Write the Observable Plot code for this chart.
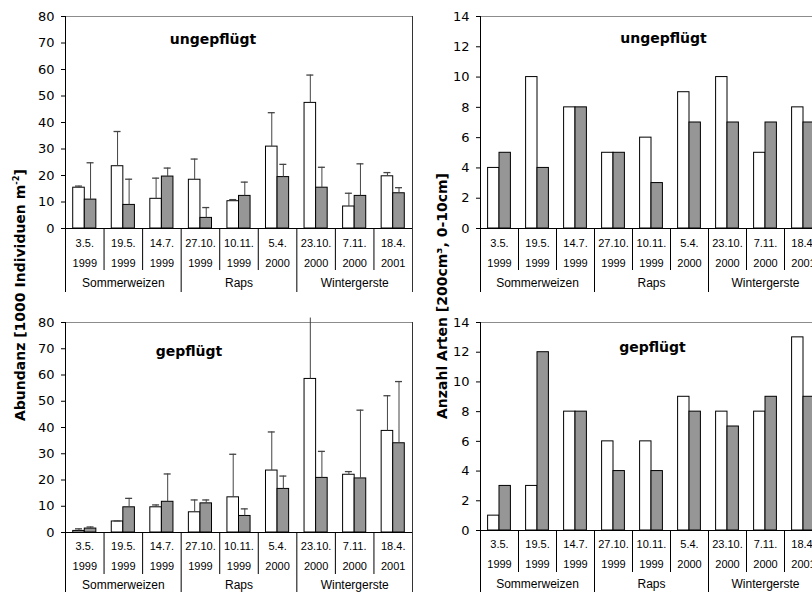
<!DOCTYPE html>
<html>
<head>
<meta charset="utf-8">
<script src="https://cdn.jsdelivr.net/npm/d3@7"></script>
<script src="https://cdn.jsdelivr.net/npm/@observablehq/plot@0.6"></script>
<style>
  body { margin: 0; background: #fff; overflow: hidden; }
  #wrap { position: relative; width: 812px; height: 592px; overflow: hidden; background: #fff; }
  .panel { position: absolute; overflow: hidden; }
  .ytitle { position: absolute; transform: translate(-50%, -50%) rotate(-90deg); font: bold 14px "DejaVu Sans", sans-serif; white-space: nowrap; z-index: 2; color: #000; }
  .ytitle sup { font-size: 60%; line-height: 0; }
</style>
</head>
<body>
<div id="wrap">
  <div class="ytitle" style="left:20px;top:295px">Abundanz [1000 Individuen m<sup>-2</sup>]</div>
  <div class="ytitle" style="left:442px;top:296px">Anzahl Arten [200cm³, 0-10cm]</div>
</div>
<script>
// ---------- data ----------
const dates = ["3.5.", "19.5.", "14.7.", "27.10.", "10.11.", "5.4.", "23.10.", "7.11.", "18.4."];
const years = ["1999", "1999", "1999", "1999", "1999", "2000", "2000", "2000", "2001"];
const crops = ["Sommerweizen", "Raps", "Wintergerste"];

// Abundanz, ungepflügt (white / grey bars with upper error)
const abunUngWhite    = [15.4, 23.5, 11.2, 18.4, 10.3, 30.9, 47.4, 8.3, 19.7];
const abunUngWhiteErr = [0.6, 13.1, 7.8, 7.8, 0.6, 12.8, 10.5, 5.0, 1.4];
const abunUngGray     = [10.9, 8.9, 19.6, 4.0, 12.3, 19.4, 15.4, 12.3, 13.3];
const abunUngGrayErr  = [13.9, 9.7, 3.2, 3.9, 5.2, 4.8, 7.7, 12.1, 2.1];
// Abundanz, gepflügt
const abunGepWhite    = [0.6, 4.2, 9.6, 7.7, 13.4, 23.6, 58.5, 22.0, 38.7];
const abunGepWhiteErr = [0.8, 0.2, 0.9, 4.7, 16.4, 14.7, 23.2, 1.2, 13.4];
const abunGepGray     = [1.5, 9.6, 11.7, 11.1, 6.3, 16.6, 20.8, 20.6, 34.0];
const abunGepGrayErr  = [0.6, 3.4, 10.6, 1.3, 2.7, 4.9, 10.1, 26.0, 23.5];
// Anzahl Arten
const artenUngWhite = [4, 10, 8, 5, 6, 9, 10, 5, 8];
const artenUngGray  = [5, 4, 8, 5, 3, 7, 7, 7, 7];
const artenGepWhite = [1, 3, 8, 6, 6, 9, 8, 8, 13];
const artenGepGray  = [3, 12, 8, 4, 4, 8, 7, 9, 9];

const abunTicks  = [0, 10, 20, 30, 40, 50, 60, 70, 80];
const artenTicks = [0, 2, 4, 6, 8, 10, 12, 14];
const panelTitles = ["ungepflügt", "gepflügt"];

// ---------- drawing ----------
const GRAY = "#969696";
const ERR = "#444";

function panel(o) {
  const {white, whiteErr, gray, grayErr, ticks, title, left, top, width, height, ml, mr, mt, mb, titleDx, titleDy, labDy} = o;
  const yMax = ticks[ticks.length - 1];
  const rows = dates.map((d, i) => ({
    date: d, year: years[i], w: white[i], g: gray[i],
    we: whiteErr ? whiteErr[i] : 0, ge: grayErr ? grayErr[i] : 0
  }));
  const plotW = width - ml - mr, plotH = height - mt - mb;
  const step = plotW / dates.length;
  const bw = step * 0.6, half = bw / 2;
  const capW = 7;
  const below = (px) => -px * yMax / plotH;
  const dateSeps = dates.filter((d, i) => i % 3 !== 0);
  const groupSeps = dates.filter((d, i) => i % 3 === 0 && i > 0);

  const marks = [
    Plot.ruleY([yMax], {stroke: "#8c8c8c"}),
    Plot.barY(rows, {x: "date", y: "w", fill: "white", stroke: "black", strokeWidth: 1, insetRight: half}),
    Plot.barY(rows, {x: "date", y: "g", fill: GRAY, stroke: "black", strokeWidth: 1, insetLeft: half})
  ];
  if (whiteErr) {
    marks.push(
      Plot.ruleX(rows, {x: "date", y1: "w", y2: (d) => d.w + d.we, dx: -half / 2, stroke: ERR}),
      Plot.tickY(rows.filter((d) => d.w + d.we <= yMax), {x: "date", y: (d) => d.w + d.we, dx: -half / 2, inset: (bw - capW) / 2, stroke: ERR, strokeWidth: 1.3}),
      Plot.ruleX(rows, {x: "date", y1: "g", y2: (d) => d.g + d.ge, dx: half / 2, stroke: ERR}),
      Plot.tickY(rows.filter((d) => d.g + d.ge <= yMax), {x: "date", y: (d) => d.g + d.ge, dx: half / 2, inset: (bw - capW) / 2, stroke: ERR, strokeWidth: 1.3})
    );
  }
  marks.push(
    Plot.ruleY([0], {stroke: "black"}),
    // category separators below the axis
    Plot.ruleX(dateSeps, {x: (d) => d, y1: 0, y2: below(42), dx: -step / 2, stroke: "black"}),
    Plot.ruleX(groupSeps, {x: (d) => d, y1: 0, y2: below(64), dx: -step / 2, stroke: "black"}),
    // y axis line and right frame edge
    Plot.ruleX([dates[0]], {x: (d) => d, y1: yMax, y2: below(64), dx: -step / 2, stroke: "black"}),
    Plot.ruleX([dates[dates.length - 1]], {x: (d) => d, y1: yMax, y2: below(64), dx: step / 2, stroke: "#333"}),
    // category labels
    Plot.text(rows, {x: "date", y: 0, text: "date", dy: labDy[0], fontSize: 11, fontFamily: "Liberation Sans, Arial, sans-serif", fill: "black"}),
    Plot.text(rows, {x: "date", y: 0, text: "year", dy: labDy[1], fontSize: 11, fontFamily: "Liberation Sans, Arial, sans-serif", fill: "black"}),
    Plot.text(crops, {x: (d, i) => dates[3 * i + 1], y: 0, text: (d) => d, dy: labDy[2], fontSize: 12, fontFamily: "Liberation Sans, Arial, sans-serif", fill: "black"}),
    // panel title
    Plot.text([title], {frameAnchor: "top", lineAnchor: "middle", dx: titleDx, dy: titleDy, text: (d) => d, fontSize: 14, fontWeight: "bold", fontFamily: "DejaVu Sans, sans-serif", fill: "black"})
  );

  const svg = Plot.plot({
    width, height,
    marginLeft: ml, marginRight: mr, marginTop: mt, marginBottom: mb,
    x: {type: "band", domain: dates, paddingInner: 0.4, paddingOuter: 0.2, round: false, axis: null},
    y: {domain: [0, yMax], ticks, tickSize: 4, tickPadding: 7, label: null, tickFormat: (d) => String(d)},
    style: {fontFamily: "DejaVu Sans, sans-serif", fontSize: "13px", color: "black", background: "white"},
    marks
  });
  const box = document.createElement("div");
  box.className = "panel";
  box.style.left = left + "px";
  box.style.top = top + "px";
  box.style.width = width + "px";
  box.style.height = height + "px";
  box.appendChild(svg);
  document.getElementById("wrap").appendChild(box);
}

panel({white: abunUngWhite, whiteErr: abunUngWhiteErr, gray: abunUngGray, grayErr: abunUngGrayErr,
  ticks: abunTicks, title: panelTitles[0], left: 0, top: 0, width: 420, height: 296,
  ml: 65, mr: 8, mt: 16, mb: 68, titleDx: -26, titleDy: 23, labDy: [15, 35, 55]});
panel({white: abunGepWhite, whiteErr: abunGepWhiteErr, gray: abunGepGray, grayErr: abunGepGrayErr,
  ticks: abunTicks, title: panelTitles[1], left: 0, top: 296, width: 420, height: 296,
  ml: 65, mr: 8, mt: 26, mb: 60, titleDx: -50, titleDy: 29, labDy: [14, 34, 53]});
panel({white: artenUngWhite, gray: artenUngGray,
  ticks: artenTicks, title: panelTitles[0], left: 420, top: 0, width: 402, height: 296,
  ml: 60, mr: 0, mt: 16, mb: 68, titleDx: 12, titleDy: 22, labDy: [15, 35, 55]});
panel({white: artenGepWhite, gray: artenGepGray,
  ticks: artenTicks, title: panelTitles[1], left: 420, top: 296, width: 402, height: 296,
  ml: 60, mr: 0, mt: 26, mb: 62, titleDx: 1, titleDy: 25, labDy: [14, 34, 54]});
</script>
</body>
</html>
